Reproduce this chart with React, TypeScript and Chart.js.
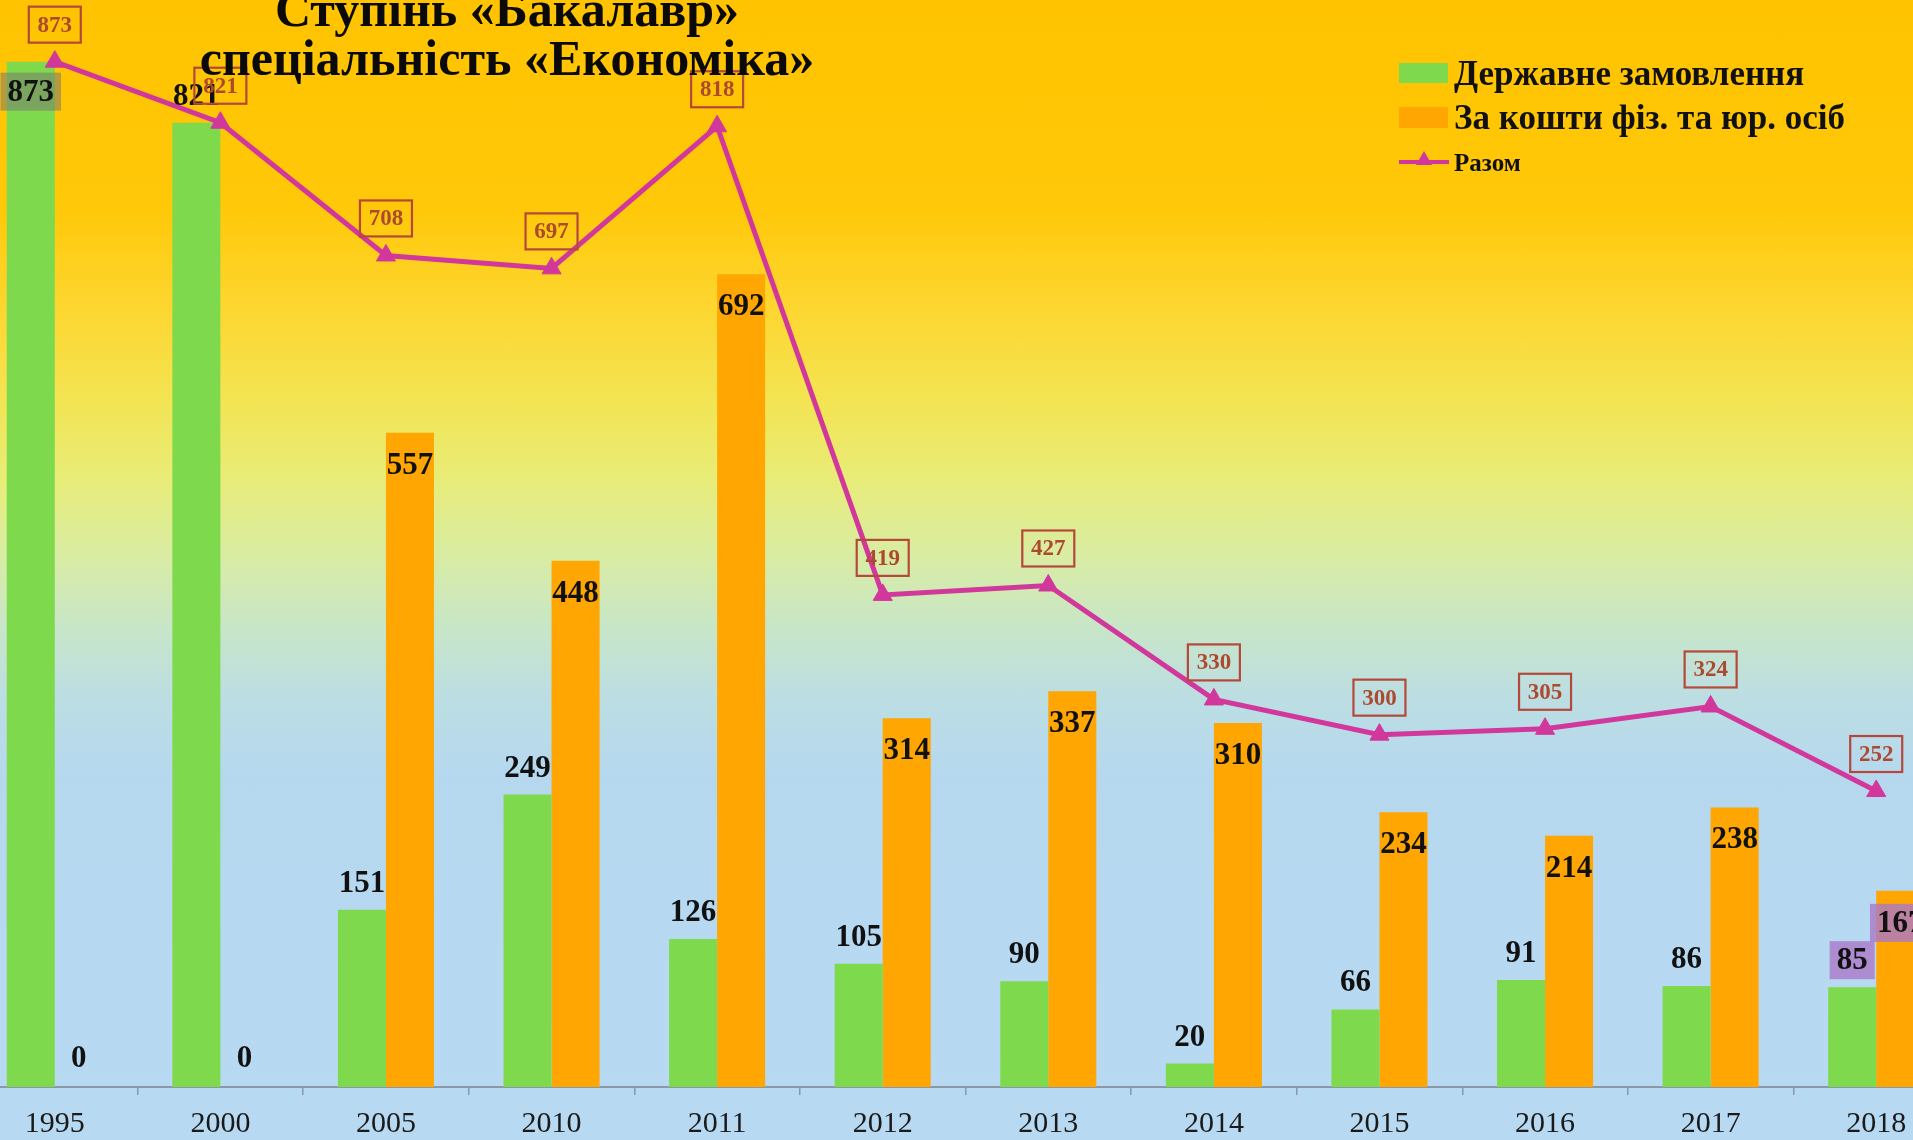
import React, { useEffect, useRef } from 'react';
import { Chart, registerables } from 'chart.js';

Chart.register(...registerables);

// ---------- data ----------
const categories = ['1995', '2000', '2005', '2010', '2011', '2012', '2013', '2014', '2015', '2016', '2017', '2018'];
const stateOrder = [873, 821, 151, 249, 126, 105, 90, 20, 66, 91, 86, 85];
const paidStudy = [0, 0, 557, 448, 692, 314, 337, 310, 234, 214, 238, 167];
const totalStudents = [873, 821, 708, 697, 818, 419, 427, 330, 300, 305, 324, 252];
const seriesNames = ['Державне замовлення', 'За кошти фіз. та юр. осіб', 'Разом'];
const titleLines = ['Ступінь «Бакалавр»', 'спеціальність «Економіка»'];

// ---------- style ----------
const GREEN = '#7fd94d';
const ORANGE = '#ffa602';
const MAGENTA = '#d2379c';
const BOX_RED = '#b4483a';
const SERIF = '"Liberation Serif", "Times New Roman", serif';
const Y_MAX = 925.5;
// marker-pen highlights on some labels in the scanned original
const HIGHLIGHTS: Record<string, string> = {
  '0:0': 'rgba(120,120,110,0.55)',
  '0:11': 'rgba(170,120,200,0.8)',
  '1:11': 'rgba(170,120,200,0.8)',
};

const labelPlugin = {
  id: 'valueLabels',
  afterDatasetsDraw(chart: any) {
    const ctx = chart.ctx;
    const base = chart.scales.y.getPixelForValue(0);
    ctx.save();
    ctx.textAlign = 'center';
    ctx.textBaseline = 'middle';
    // bar labels
    [0, 1].forEach((di) => {
      const meta = chart.getDatasetMeta(di);
      meta.data.forEach((el: any, i: number) => {
        const v = chart.data.datasets[di].data[i];
        const top = el.y;
        let cy: number;
        if (di === 0) cy = top - 27 < 80 ? top + 30 : top - 27;
        else cy = base - top < 60 ? top - 29 : top + 32;
        const txt = String(v);
        ctx.font = `bold 31px ${SERIF}`;
        const w = ctx.measureText(txt).width;
        const hl = HIGHLIGHTS[`${di}:${i}`];
        if (hl) {
          ctx.fillStyle = hl;
          ctx.fillRect(el.x - w / 2 - 7, cy - 19, w + 14, 38);
        }
        ctx.fillStyle = '#111';
        ctx.fillText(txt, el.x, cy + 1);
      });
    });
    // total labels in boxes
    const lm = chart.getDatasetMeta(2);
    lm.data.forEach((pt: any, i: number) => {
      const v = chart.data.datasets[2].data[i];
      const cx = pt.x;
      const cy = pt.y - 37;
      const bw = 52;
      const bh = 36;
      ctx.strokeStyle = BOX_RED;
      ctx.lineWidth = 2.2;
      ctx.strokeRect(cx - bw / 2, cy - bh / 2, bw, bh);
      ctx.font = `bold 23px ${SERIF}`;
      ctx.fillStyle = '#ac4a30';
      ctx.fillText(String(v), cx, cy + 1);
    });
    ctx.restore();
  },
};

function ChartCanvas() {
  const ref = useRef<HTMLCanvasElement>(null);
  useEffect(() => {
    if (!ref.current) return;
    const chart = new Chart(ref.current, {
      type: 'bar',
      data: {
        labels: categories,
        datasets: [
          {
            type: 'bar',
            label: seriesNames[0],
            data: stateOrder,
            backgroundColor: GREEN,
            categoryPercentage: 0.58,
            barPercentage: 1.0,
            order: 2,
          },
          {
            type: 'bar',
            label: seriesNames[1],
            data: paidStudy,
            backgroundColor: ORANGE,
            categoryPercentage: 0.58,
            barPercentage: 1.0,
            order: 2,
          },
          {
            type: 'line',
            label: seriesNames[2],
            data: totalStudents,
            borderColor: MAGENTA,
            backgroundColor: MAGENTA,
            borderWidth: 5,
            pointStyle: 'triangle',
            pointRadius: 11,
            pointBorderWidth: 1,
            pointBackgroundColor: MAGENTA,
            pointBorderColor: MAGENTA,
            tension: 0,
            clip: false,
            order: 0,
          } as any,
        ],
      },
      options: {
        animation: false,
        responsive: false,
        devicePixelRatio: 1,
        layout: { padding: 0, autoPadding: false },
        plugins: {
          legend: { display: false },
          tooltip: { enabled: false },
          title: { display: false },
        },
        scales: {
          x: {
            offset: true,
            grid: {
              offset: true,
              drawOnChartArea: false,
              drawTicks: true,
              tickLength: 8,
              color: '#8a98a8',
              lineWidth: 1.5,
            },
            border: { display: true, color: '#8a98a8', width: 2 },
            ticks: {
              color: '#1a1a1a',
              font: { family: SERIF, size: 30 },
              padding: 11,
              maxRotation: 0,
            },
            afterFit: (scale: any) => {
              scale.height = 53;
              scale.paddingLeft = 0;
              scale.paddingRight = 0;
            },
          },
          y: {
            display: false,
            min: 0,
            max: Y_MAX,
          },
        },
      },
      plugins: [labelPlugin],
    });
    return () => chart.destroy();
  }, []);
  return (
    <canvas
      ref={ref}
      width={1987}
      height={1140}
      style={{ position: 'absolute', left: -28, top: 0, width: 1987, height: 1140 }}
    />
  );
}

export default function App() {
  const legendText: React.CSSProperties = {
    position: 'absolute',
    left: 1454,
    fontFamily: SERIF,
    fontWeight: 'bold',
    color: '#111',
    whiteSpace: 'nowrap',
  };
  return (
    <div
      style={{
        position: 'fixed',
        inset: 0,
        overflow: 'hidden',
        background:
          'linear-gradient(180deg, #ffc300 0%, #ffc808 18%, #fdd630 27%, #f3e452 35%, #e8ec78 42%, #d8eca4 49%, #c8e6c8 55%, #bcdee2 61%, #b6d8ef 68%, #b7d9f2 100%)',
      }}
    >
      <ChartCanvas />
      <div
        style={{
          position: 'absolute',
          left: 507,
          top: -15,
          transform: 'translateX(-50%)',
          fontFamily: SERIF,
          fontWeight: 'bold',
          fontSize: 50,
          lineHeight: '49px',
          textAlign: 'center',
          whiteSpace: 'nowrap',
          color: '#0a0a0a',
        }}
      >
        <div>{titleLines[0]}</div>
        <div>{titleLines[1]}</div>
      </div>
      {/* legend */}
      <div style={{ position: 'absolute', left: 1399, top: 63, width: 49, height: 20, background: GREEN }} />
      <div style={{ ...legendText, top: 73, fontSize: 35, lineHeight: '35px', transform: 'translateY(-50%)' }}>
        {seriesNames[0]}
      </div>
      <div style={{ position: 'absolute', left: 1399, top: 107, width: 49, height: 21, background: ORANGE }} />
      <div style={{ ...legendText, top: 117, fontSize: 35, lineHeight: '35px', transform: 'translateY(-50%)' }}>
        {seriesNames[1]}
      </div>
      <div style={{ position: 'absolute', left: 1399, top: 160, width: 50, height: 4, background: MAGENTA }} />
      <div
        style={{
          position: 'absolute',
          left: 1416,
          top: 151,
          width: 0,
          height: 0,
          borderLeft: '8px solid transparent',
          borderRight: '8px solid transparent',
          borderBottom: '14px solid ' + MAGENTA,
        }}
      />
      <div style={{ ...legendText, top: 162, fontSize: 25, lineHeight: '25px', transform: 'translateY(-50%)' }}>
        {seriesNames[2]}
      </div>
    </div>
  );
}
